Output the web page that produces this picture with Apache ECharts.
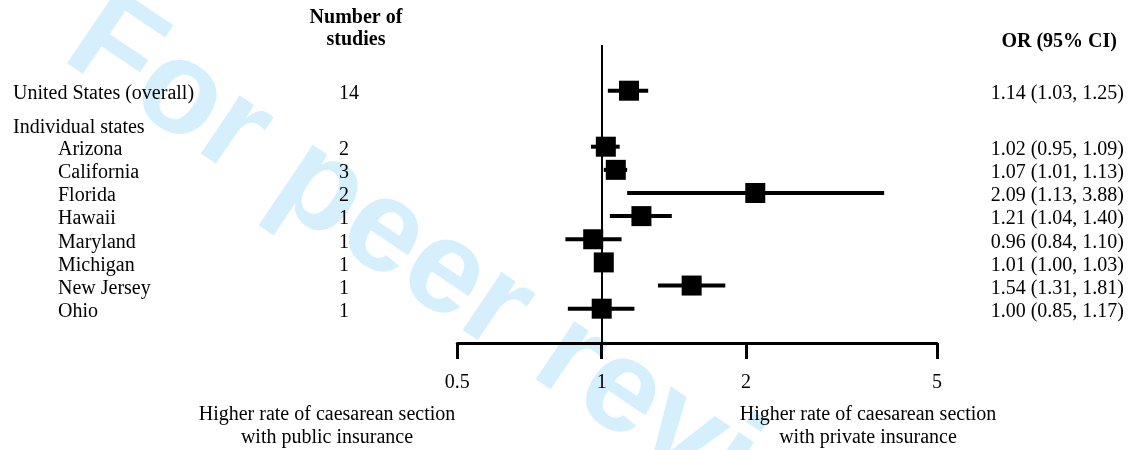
<!DOCTYPE html>
<html><head><meta charset="utf-8">
<script src="https://cdn.jsdelivr.net/npm/echarts@6/dist/echarts.min.js"></script>
<style>html,body{margin:0;padding:0;background:#fff}#c{width:1128px;height:450px}</style>
</head><body><div id="c"></div>
<script>
const rowLabels = ['United States (overall)','Arizona','California','Florida','Hawaii','Maryland','Michigan','New Jersey','Ohio'];
const nStudies = [14,2,3,2,1,1,1,1,1];
const orValues = [1.14,1.02,1.07,2.09,1.21,0.96,1.01,1.54,1.00];
const ciLower  = [1.03,0.95,1.01,1.13,1.04,0.84,1.00,1.31,0.85];
const ciUpper  = [1.25,1.09,1.13,3.88,1.40,1.10,1.03,1.81,1.17];
const rowPos   = [-2.42,0,1,2,3,4,5,6,7];
const indented = [false,true,true,true,true,true,true,true,true];
const groupLabel = 'Individual states';
const groupPos = -0.95;
const xTicks = [0.5,1,2,5];
const headerStudies = ['Number of','studies'];
const headerOR = 'OR (95% CI)';
const leftNote = ['Higher rate of caesarean section','with public insurance'];
const rightNote = ['Higher rate of caesarean section','with private insurance'];
const watermark = 'For peer review';

const FONT = '"Liberation Serif","Times New Roman",serif';
const FS = 20;
const TXT_DY = 3;
const ciText = orValues.map((v,i)=>`${v.toFixed(2)} (${ciLower[i].toFixed(2)}, ${ciUpper[i].toFixed(2)})`);

const forestData = rowPos.map((y,i)=>[y, orValues[i], ciLower[i], ciUpper[i]]);
const textData = rowPos.map((y,i)=>[y, i]);

const chart = echarts.init(document.getElementById('c'), null, {renderer:'canvas'});
const txt = (x,y,s,align,bold) => ({
  type:'text', x:x, y:y, z:10,
  style:{text:s, x:0, y:0, fill:'#000', font:(bold?'bold ':'')+FS+'px '+FONT, textAlign:align, textVerticalAlign:'middle'}
});

chart.setOption({
  animation:false,
  backgroundColor:'#fff',
  grid:{left:457.3, right:191, top:45, bottom:107, outerBoundsMode:'none', containLabel:false},
  xAxis:{
    type:'log', logBase:10, min:0.5, max:5,
    axisLine:{show:true, onZero:false, lineStyle:{color:'#000', width:3}},
    axisTick:{show:true, customValues:xTicks, length:16, lineStyle:{color:'#000', width:3}},
    axisLabel:{customValues:xTicks, margin:30, color:'#000', fontFamily:FONT, fontSize:FS,
      formatter:v=>String(v)},
    splitLine:{show:false}, minorTick:{show:false}, minorSplitLine:{show:false}
  },
  yAxis:{type:'value', inverse:true, min:-4.395, max:8.483, show:false},
  graphic:[
    {type:'text', x:80, y:28, rotation:-34*Math.PI/180, z:-5, silent:true,
     style:{text:watermark, fill:'rgb(213,240,252)', font:'bold 132px "Liberation Sans",Arial,sans-serif', textAlign:'left', textVerticalAlign:'middle'}},
    txt(356,18,headerStudies[0],'center',true),
    txt(356,40,headerStudies[1],'center',true),
    txt(1117,42,headerOR,'right',true),
    txt(327,415,leftNote[0],'center',false),
    txt(327,438,leftNote[1],'center',false),
    txt(868,415,rightNote[0],'center',false),
    txt(868,438,rightNote[1],'center',false)
  ],
  series:[
    {
      type:'custom', z:5, clip:false,
      data:forestData,
      encode:{x:[1,2,3], y:0},
      renderItem:function(params, api){
        const y=api.value(0), o=api.value(1), lo=api.value(2), hi=api.value(3);
        const a=api.coord([lo,y]), b=api.coord([hi,y]), c=api.coord([o,y]);
        return {type:'group', children:[
          {type:'line', shape:{x1:a[0],y1:a[1],x2:b[0],y2:b[1]}, style:{stroke:'#000', lineWidth:4}},
          {type:'rect', shape:{x:c[0]-10,y:c[1]-10,width:20,height:20}, style:{fill:'#000'}}
        ]};
      },
      markLine:{silent:true, symbol:['none','none'], label:{show:false},
        lineStyle:{color:'#000', width:2, type:'solid'},
        data:[{xAxis:1}]}
    },
    {
      type:'custom', z:6, clip:false,
      data:textData,
      encode:{y:0},
      renderItem:function(params, api){
        const y=api.value(0), i=api.value(1);
        const py=api.coord([1,y])[1]+TXT_DY;
        const st=(x,s,align)=>({type:'text', x:x, y:py, style:{text:s, fill:'#000', font:FS+'px '+FONT, textAlign:align, textVerticalAlign:'middle'}});
        return {type:'group', children:[
          st(indented[i]?58:13, rowLabels[i], 'left'),
          st(339, String(nStudies[i]), 'left'),
          st(1124, ciText[i], 'right')
        ]};
      }
    },
    {
      type:'custom', z:6, clip:false,
      data:[[groupPos]],
      encode:{y:0},
      renderItem:function(params, api){
        const py=api.coord([1,api.value(0)])[1]+TXT_DY;
        return {type:'text', x:13, y:py, style:{text:groupLabel, fill:'#000', font:FS+'px '+FONT, textAlign:'left', textVerticalAlign:'middle'}};
      }
    }
  ]
});
</script></body></html>
